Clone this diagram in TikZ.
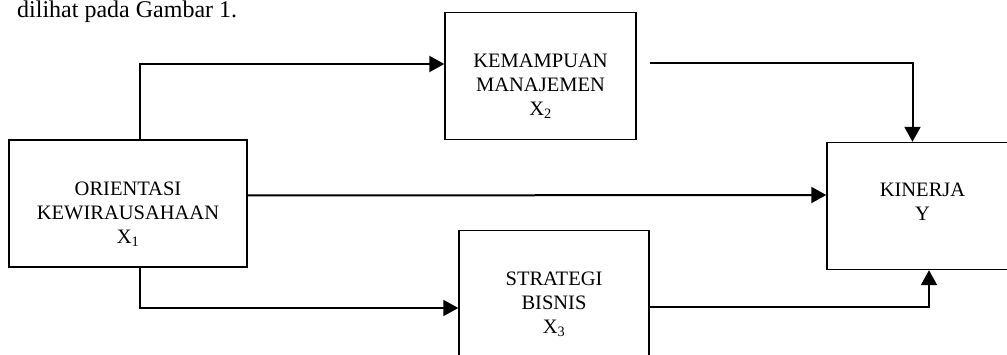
\documentclass[tikz,border=0pt]{standalone}
\usepackage{fontspec}
\setmainfont{Liberation Serif}
\usetikzlibrary{calc,positioning,arrows.meta}

\begin{document}
\begin{tikzpicture}[x=1pt,y=-1pt,
    blok/.style={draw,line width=1.4pt,minimum width=191pt,minimum height=127pt,inner sep=0pt},
    teks/.style={align=center,inner sep=0pt,font=\fontsize{20.5}{24}\selectfont},
    panah/.style={line width=2pt,-{Triangle[length=15pt,width=16pt]}}]
    \useasboundingbox (0,0) rectangle (1007,355);
    \node[anchor=base west,inner sep=0pt,font=\fontsize{24}{28}\selectfont] (judul) at (17,18) {dilihat pada Gambar 1.};
    % kotak
    \node[blok,minimum width=238pt] (ox1) at (128,203.5) {};
    \node[blok] (km2) at (540.5,76) {};
    \node[blok] (kin) at (922.5,206) {};
    \node[blok,minimum width=190pt] (sb3) at (554,294) {};
    % isi kotak
    \node[teks,below=42pt of ox1.north] (tox1) {ORIENTASI\\KEWIRAUSAHAAN\\X\textsubscript{1}};
    \node[teks,below=42pt of km2.north] (tkm2) {KEMAMPUAN\\MANAJEMEN\\X\textsubscript{2}};
    \node[teks,below=41pt of kin.north] (tkin) {KINERJA\\Y};
    \node[teks,below=42pt of sb3.north] (tsb3) {STRATEGI\\BISNIS\\X\textsubscript{3}};
    % panah
    \draw[panah] ($(ox1.north)+(12,0)$) |- ($(km2.west)+(0,-12)$);
    \draw[panah] ($(km2.east)+(13,-13)$) -| ($(kin.north)+(-10,0)$);
    \draw[panah] ($(ox1.east)+(0,-8)$) -- ($(kin.west)+(0,-11)$);
    \draw[panah] ($(ox1.south)+(12,0)$) |- ($(sb3.west)+(0,14)$);
    \draw[panah] ($(sb3.east)+(0,13)$) -| ($(kin.south)+(6.5,0)$);
\end{tikzpicture}
\end{document}
